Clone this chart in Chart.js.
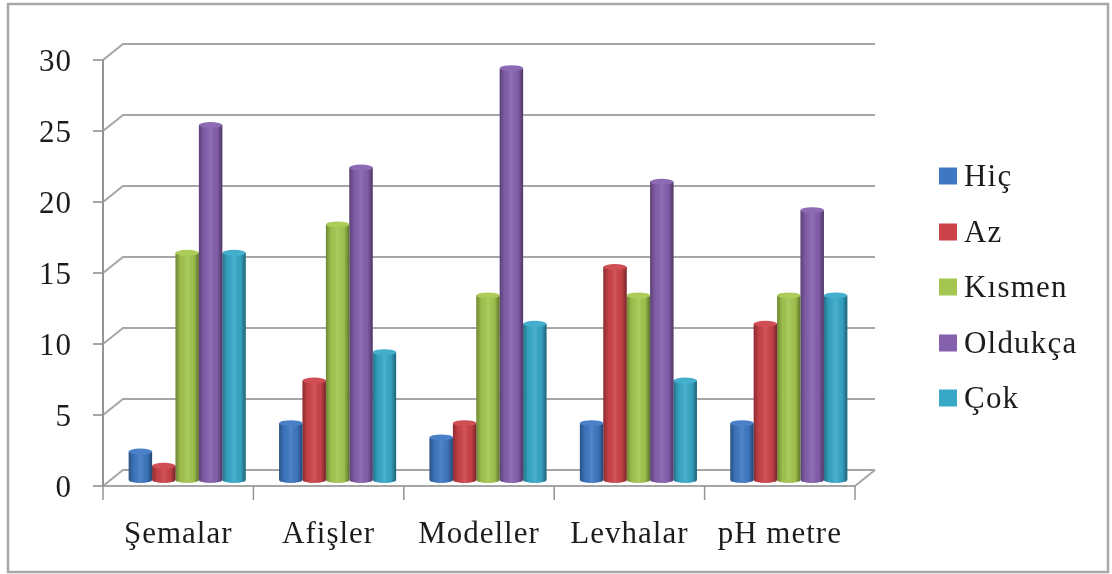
<!DOCTYPE html>
<html lang="tr">
<head>
<meta charset="utf-8">
<title>Materyal kullanımı</title>
<script src="https://cdn.jsdelivr.net/npm/chart.js@4"></script>
<style>
  html, body { margin: 0; background: #fff; }
  #wrap { width: 1112px; height: 574px; }
</style>
</head>
<body>
<div id="wrap"><canvas id="myChart" width="1112" height="574"></canvas></div>
<script>
const categories = ["Şemalar", "Afişler", "Modeller", "Levhalar", "pH metre"];
const seriesNames = ["Hiç", "Az", "Kısmen", "Oldukça", "Çok"];
const hic = [2, 4, 3, 4, 4];
const az = [1, 7, 4, 15, 11];
const kismen = [16, 18, 13, 13, 13];
const oldukca = [25, 22, 29, 21, 19];
const cok = [16, 9, 11, 7, 13];
const seriesValues = [hic, az, kismen, oldukca, cok];
const seriesColors = ["#3f78c2", "#cb4349", "#a2c64f", "#8560ad", "#37a8c8"];
const capColors = ["#4a80c8", "#d04f55", "#abcc59", "#8d6ab4", "#44afcd"];
const yTicks = [0, 5, 10, 15, 20, 25, 30];

const FONT = "Liberation Serif";
const TEXT_COLOR = "#1c1c1c";
const LINE_COLOR = "#a6a6a6";

// depth of the fake 3d box and where the bars stand inside it
const backX = 20;
const backY = -16;
const barX = 9;
const barY = -9;
const capRadius = 3;
// the axis labels hang a little below the front edge of the box
const labelDrop = 3;

// outer frame, walls and floor of the box, drawn behind the bars
const boxPlugin = {
  id: "box",
  beforeDatasetsDraw(chart) {
    const { ctx, chartArea, scales } = chart;
    const { left, right } = chartArea;
    const top = chartArea.top - labelDrop;
    const bottom = chartArea.bottom - labelDrop;
    ctx.save();

    ctx.strokeStyle = "#a8a8a8";
    ctx.lineWidth = 2.5;
    ctx.strokeRect(8, 4, 1100, 568);

    ctx.strokeStyle = LINE_COLOR;
    ctx.lineWidth = 2;
    yTicks.forEach((tick) => {
      const y = scales.y.getPixelForValue(tick) - labelDrop;
      ctx.beginPath();
      ctx.moveTo(left - 10, y);
      ctx.lineTo(left, y);
      ctx.lineTo(left + backX, y + backY);
      ctx.lineTo(right + backX, y + backY);
      ctx.stroke();
    });

    // front edge of the floor and its right side
    ctx.beginPath();
    ctx.moveTo(left, bottom);
    ctx.lineTo(right, bottom);
    ctx.lineTo(right + backX, bottom + backY);
    ctx.stroke();

    ctx.strokeStyle = "#949494";
    ctx.beginPath();
    ctx.moveTo(left, top);
    ctx.lineTo(left, bottom);
    ctx.stroke();

    // category separators under the floor
    ctx.lineWidth = 1.5;
    const step = (right - left) / categories.length;
    for (let i = 0; i <= categories.length; i++) {
      const x = left + i * step;
      ctx.beginPath();
      ctx.moveTo(x, bottom);
      ctx.lineTo(x, bottom + 14);
      ctx.stroke();
    }
    ctx.restore();

    // bars sit in the middle of the box depth
    ctx.save();
    ctx.translate(barX, barY);
  },
  afterDatasetDraw(chart, args) {
    const { ctx } = chart;
    const i = args.index;
    args.meta.data.forEach((bar) => {
      const half = bar.width / 2;
      const x0 = bar.x - half;
      const x1 = bar.x + half;

      // rounded foot, same colour as the bar
      ctx.fillStyle = seriesColors[i];
      ctx.beginPath();
      ctx.ellipse(bar.x, bar.base, half, capRadius, 0, 0, Math.PI);
      ctx.fill();

      // cylinder shading across the body
      const shade = ctx.createLinearGradient(x0, 0, x1, 0);
      shade.addColorStop(0, "rgba(0,0,0,0.32)");
      shade.addColorStop(0.22, "rgba(0,0,0,0.04)");
      shade.addColorStop(0.5, "rgba(255,255,255,0.1)");
      shade.addColorStop(0.78, "rgba(0,0,0,0.04)");
      shade.addColorStop(1, "rgba(0,0,0,0.42)");
      ctx.fillStyle = shade;
      ctx.beginPath();
      ctx.moveTo(x0, bar.y);
      ctx.lineTo(x1, bar.y);
      ctx.lineTo(x1, bar.base);
      ctx.ellipse(bar.x, bar.base, half, capRadius, 0, 0, Math.PI);
      ctx.closePath();
      ctx.fill();

      // top of the cylinder
      ctx.fillStyle = capColors[i];
      ctx.beginPath();
      ctx.ellipse(bar.x, bar.y, half, capRadius, 0, 0, Math.PI * 2);
      ctx.fill();
    });
  },
  afterDatasetsDraw(chart) {
    chart.ctx.restore();
  },
};

// series key on the right, gap between swatch and label is tighter than the built-in legend allows
const keyPlugin = {
  id: "key",
  afterDraw(chart) {
    const { ctx } = chart;
    const keyY = [176, 232, 287, 343, 398];
    ctx.save();
    ctx.font = `31px "${FONT}"`;
    ctx.letterSpacing = "1.2px";
    ctx.textBaseline = "middle";
    ctx.textAlign = "left";
    seriesNames.forEach((name, i) => {
      ctx.fillStyle = seriesColors[i];
      ctx.fillRect(939, keyY[i] - 8.5, 18, 17);
      ctx.fillStyle = TEXT_COLOR;
      ctx.fillText(name, 964, keyY[i] + 2);
    });
    ctx.restore();
  },
};

// wider label tracking for the axis text
const trackingPlugin = {
  id: "tracking",
  beforeDraw(chart) {
    chart.ctx.letterSpacing = "1px";
  },
};

const ctx = document.getElementById("myChart");

new Chart(ctx, {
  type: "bar",
  data: {
    labels: categories,
    datasets: seriesValues.map((values, i) => ({
      label: seriesNames[i],
      data: values,
      backgroundColor: seriesColors[i],
      borderWidth: 0,
      clip: false,
    })),
  },
  options: {
    responsive: false,
    animation: false,
    devicePixelRatio: 1,
    categoryPercentage: 0.778,
    barPercentage: 1,
    layout: { padding: { top: 63, right: 257, left: 0, bottom: 0 } },
    plugins: { legend: { display: false }, tooltip: { enabled: false } },
    scales: {
      x: {
        grid: { display: false },
        border: { display: false },
        afterFit(scale) {
          scale.height = 85;
        },
        ticks: {
          color: TEXT_COLOR,
          padding: 19,
          maxRotation: 0,
          font: { family: FONT, size: 31 },
        },
      },
      y: {
        min: 0,
        max: 30,
        grid: { display: false, drawTicks: false },
        border: { display: false },
        afterFit(scale) {
          scale.width = 103;
        },
        ticks: {
          stepSize: 5,
          color: TEXT_COLOR,
          padding: 31,
          font: { family: FONT, size: 31 },
        },
      },
    },
  },
  plugins: [trackingPlugin, boxPlugin, keyPlugin],
});
</script>
</body>
</html>
